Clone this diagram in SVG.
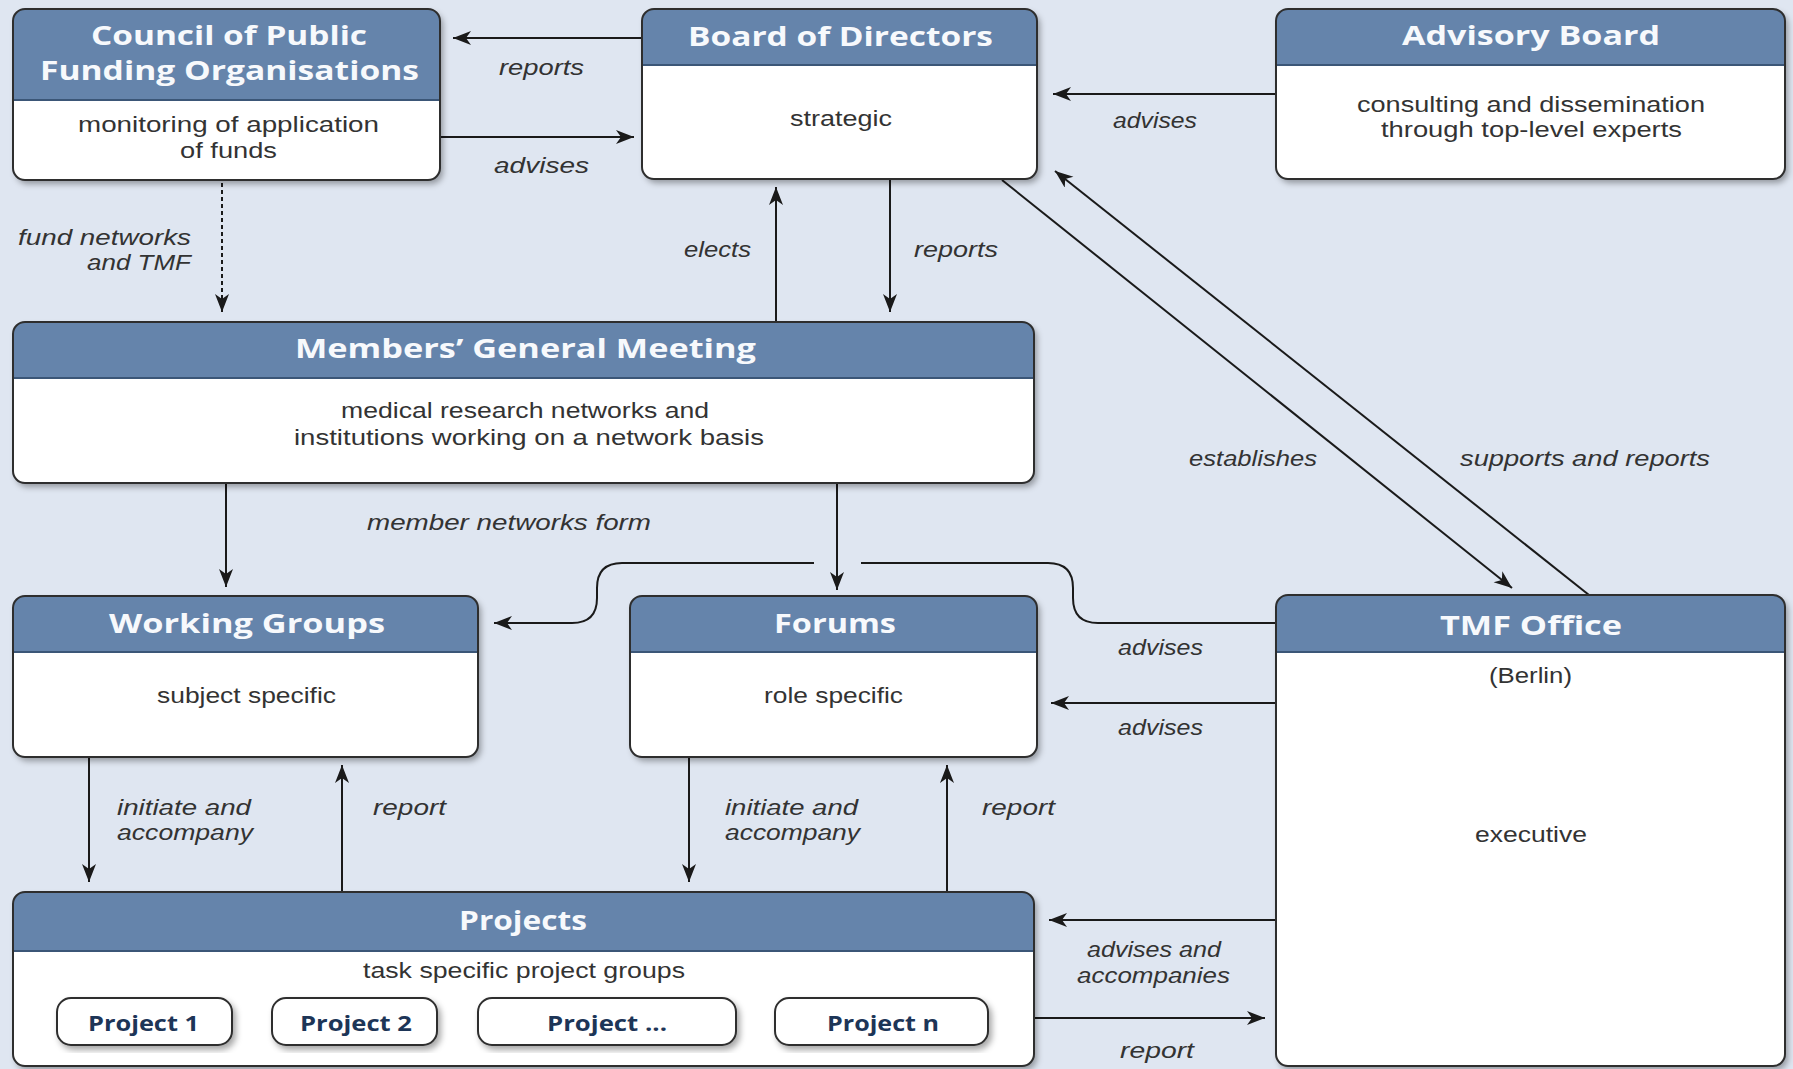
<svg xmlns="http://www.w3.org/2000/svg" width="1793" height="1069" viewBox="0 0 1793 1069">
<defs>
<filter id="sh" x="-5%" y="-5%" width="115%" height="120%">
<feDropShadow dx="3" dy="4" stdDeviation="3" flood-color="#000" flood-opacity="0.35"/>
</filter>
<marker id="ah" markerUnits="userSpaceOnUse" markerWidth="20" markerHeight="16" refX="18" refY="7" orient="auto">
<path d="M0,0 L18,7 L0,14 L5,7 Z" fill="#1a1a1a"/>
</marker>
<style>
.box{fill:#fff;filter:url(#sh)}
.hdr{fill:#6584ab}
.sep{stroke:#3b5677;stroke-width:2}
.frame{fill:none;stroke:#2e2e2e;stroke-width:2}
.pill{fill:#fff;stroke:#2e2e2e;stroke-width:2;filter:url(#sh)}
.t{font-family:"Open Sans","Liberation Sans",sans-serif;font-weight:700;font-size:27px;fill:#f7f9fc}
.b{font-family:"Liberation Sans","Open Sans",sans-serif;font-size:22px;fill:#333}
.l{font-family:"Liberation Sans","Open Sans",sans-serif;font-style:italic;font-size:22px;fill:#333}
.p{font-family:"Open Sans","Liberation Sans",sans-serif;font-weight:700;font-size:21px;fill:#1d3557}
.c{fill:none;stroke:#1a1a1a;stroke-width:2}
.ca{fill:none;stroke:#1a1a1a;stroke-width:2;marker-end:url(#ah)}
</style>
</defs>
<rect x="0" y="0" width="1793" height="1069" fill="#dfe6f1"/>

<g id="connectors">
<line class="ca" x1="642" y1="38" x2="453" y2="38"/>
<line class="ca" x1="440" y1="137" x2="634" y2="137"/>
<line class="ca" x1="222" y1="183" x2="222" y2="312" stroke-dasharray="4 3"/>
<line class="ca" x1="776" y1="322" x2="776" y2="187"/>
<line class="ca" x1="890" y1="179" x2="890" y2="312"/>
<line class="ca" x1="1276" y1="94" x2="1053" y2="94"/>
<line class="ca" x1="1002" y1="180" x2="1512" y2="588"/>
<line class="ca" x1="1589" y1="595" x2="1055" y2="171"/>
<line class="ca" x1="226" y1="483" x2="226" y2="587"/>
<line class="ca" x1="837" y1="483" x2="837" y2="590"/>
<path class="c" d="M1276,623 H1098 Q1073,623 1073,598 V588 Q1073,563 1048,563 H861"/>
<path class="ca" d="M814,563 H622 Q597,563 597,588 V598 Q597,623 572,623 H494"/>
<line class="ca" x1="1276" y1="703" x2="1051" y2="703"/>
<line class="ca" x1="89" y1="757" x2="89" y2="882"/>
<line class="ca" x1="342" y1="892" x2="342" y2="765"/>
<line class="ca" x1="689" y1="757" x2="689" y2="882"/>
<line class="ca" x1="947" y1="892" x2="947" y2="765"/>
<line class="ca" x1="1276" y1="920" x2="1049" y2="920"/>
<line class="ca" x1="1034" y1="1018" x2="1265" y2="1018"/>

<text class="l" x="499" y="75" textLength="85" lengthAdjust="spacingAndGlyphs">reports</text>
<text class="l" x="494" y="173" textLength="95" lengthAdjust="spacingAndGlyphs">advises</text>
<text class="l" x="18" y="245" textLength="173" lengthAdjust="spacingAndGlyphs">fund networks</text>
<text class="l" x="87" y="270" textLength="104" lengthAdjust="spacingAndGlyphs">and TMF</text>
<text class="l" x="684" y="257" textLength="67" lengthAdjust="spacingAndGlyphs">elects</text>
<text class="l" x="914" y="257" textLength="84" lengthAdjust="spacingAndGlyphs">reports</text>
<text class="l" x="1113" y="128" textLength="84" lengthAdjust="spacingAndGlyphs">advises</text>
<text class="l" x="1189" y="466" textLength="128" lengthAdjust="spacingAndGlyphs">establishes</text>
<text class="l" x="1460" y="466" textLength="250" lengthAdjust="spacingAndGlyphs">supports and reports</text>
<text class="l" x="367" y="530" textLength="284" lengthAdjust="spacingAndGlyphs">member networks form</text>
<text class="l" x="1118" y="655" textLength="85" lengthAdjust="spacingAndGlyphs">advises</text>
<text class="l" x="1118" y="735" textLength="85" lengthAdjust="spacingAndGlyphs">advises</text>
<text class="l" x="117" y="815" textLength="134" lengthAdjust="spacingAndGlyphs">initiate and</text>
<text class="l" x="117" y="840" textLength="136" lengthAdjust="spacingAndGlyphs">accompany</text>
<text class="l" x="373" y="815" textLength="73" lengthAdjust="spacingAndGlyphs">report</text>
<text class="l" x="725" y="815" textLength="133" lengthAdjust="spacingAndGlyphs">initiate and</text>
<text class="l" x="725" y="840" textLength="135" lengthAdjust="spacingAndGlyphs">accompany</text>
<text class="l" x="982" y="815" textLength="73" lengthAdjust="spacingAndGlyphs">report</text>
<text class="l" x="1087" y="957" textLength="134" lengthAdjust="spacingAndGlyphs">advises and</text>
<text class="l" x="1077" y="983" textLength="153" lengthAdjust="spacingAndGlyphs">accompanies</text>
<text class="l" x="1120" y="1058" textLength="74" lengthAdjust="spacingAndGlyphs">report</text>
</g>

<g id="council">
<rect class="box" x="13" y="9" width="427" height="171" rx="12"/>
<path class="hdr" d="M13,100 V21 A12,12 0 0 1 25,9 H428 A12,12 0 0 1 440,21 V100 Z"/>
<line class="sep" x1="13" y1="100" x2="440" y2="100"/>
<rect class="frame" x="13" y="9" width="427" height="171" rx="12"/>
<text class="t" x="91" y="45" textLength="276" lengthAdjust="spacingAndGlyphs">Council of Public</text>
<text class="t" x="40" y="80" textLength="379" lengthAdjust="spacingAndGlyphs">Funding Organisations</text>
<text class="b" x="78" y="132" textLength="301" lengthAdjust="spacingAndGlyphs">monitoring of application</text>
<text class="b" x="180" y="158" textLength="97" lengthAdjust="spacingAndGlyphs">of funds</text>
</g>

<g id="board">
<rect class="box" x="642" y="9" width="395" height="170" rx="12"/>
<path class="hdr" d="M642,65 V21 A12,12 0 0 1 654,9 H1025 A12,12 0 0 1 1037,21 V65 Z"/>
<line class="sep" x1="642" y1="65" x2="1037" y2="65"/>
<rect class="frame" x="642" y="9" width="395" height="170" rx="12"/>
<text class="t" x="688" y="46" textLength="305" lengthAdjust="spacingAndGlyphs">Board of Directors</text>
<text class="b" x="790" y="126" textLength="102" lengthAdjust="spacingAndGlyphs">strategic</text>
</g>

<g id="advisory">
<rect class="box" x="1276" y="9" width="509" height="170" rx="12"/>
<path class="hdr" d="M1276,65 V21 A12,12 0 0 1 1288,9 H1773 A12,12 0 0 1 1785,21 V65 Z"/>
<line class="sep" x1="1276" y1="65" x2="1785" y2="65"/>
<rect class="frame" x="1276" y="9" width="509" height="170" rx="12"/>
<text class="t" x="1402" y="45" textLength="258" lengthAdjust="spacingAndGlyphs">Advisory Board</text>
<text class="b" x="1357" y="112" textLength="348" lengthAdjust="spacingAndGlyphs">consulting and dissemination</text>
<text class="b" x="1381" y="137" textLength="301" lengthAdjust="spacingAndGlyphs">through top-level experts</text>
</g>

<g id="mgm">
<rect class="box" x="13" y="322" width="1021" height="161" rx="12"/>
<path class="hdr" d="M13,378 V334 A12,12 0 0 1 25,322 H1022 A12,12 0 0 1 1034,334 V378 Z"/>
<line class="sep" x1="13" y1="378" x2="1034" y2="378"/>
<rect class="frame" x="13" y="322" width="1021" height="161" rx="12"/>
<text class="t" x="295" y="358" textLength="461" lengthAdjust="spacingAndGlyphs">Members’ General Meeting</text>
<text class="b" x="341" y="418" textLength="368" lengthAdjust="spacingAndGlyphs">medical research networks and</text>
<text class="b" x="294" y="445" textLength="470" lengthAdjust="spacingAndGlyphs">institutions working on a network basis</text>
</g>

<g id="working-groups">
<rect class="box" x="13" y="596" width="465" height="161" rx="12"/>
<path class="hdr" d="M13,652 V608 A12,12 0 0 1 25,596 H466 A12,12 0 0 1 478,608 V652 Z"/>
<line class="sep" x1="13" y1="652" x2="478" y2="652"/>
<rect class="frame" x="13" y="596" width="465" height="161" rx="12"/>
<text class="t" x="109" y="633" textLength="276" lengthAdjust="spacingAndGlyphs">Working Groups</text>
<text class="b" x="157" y="703" textLength="179" lengthAdjust="spacingAndGlyphs">subject specific</text>
</g>

<g id="forums">
<rect class="box" x="630" y="596" width="407" height="161" rx="12"/>
<path class="hdr" d="M630,652 V608 A12,12 0 0 1 642,596 H1025 A12,12 0 0 1 1037,608 V652 Z"/>
<line class="sep" x1="630" y1="652" x2="1037" y2="652"/>
<rect class="frame" x="630" y="596" width="407" height="161" rx="12"/>
<text class="t" x="774" y="633" textLength="122" lengthAdjust="spacingAndGlyphs">Forums</text>
<text class="b" x="764" y="703" textLength="139" lengthAdjust="spacingAndGlyphs">role specific</text>
</g>

<g id="tmf-office">
<rect class="box" x="1276" y="595" width="509" height="471" rx="12"/>
<path class="hdr" d="M1276,652 V607 A12,12 0 0 1 1288,595 H1773 A12,12 0 0 1 1785,607 V652 Z"/>
<line class="sep" x1="1276" y1="652" x2="1785" y2="652"/>
<rect class="frame" x="1276" y="595" width="509" height="471" rx="12"/>
<text class="t" x="1440" y="635" textLength="182" lengthAdjust="spacingAndGlyphs">TMF Office</text>
<text class="b" x="1489" y="683" textLength="83" lengthAdjust="spacingAndGlyphs">(Berlin)</text>
<text class="b" x="1475" y="842" textLength="112" lengthAdjust="spacingAndGlyphs">executive</text>
</g>

<g id="projects">
<rect class="box" x="13" y="892" width="1021" height="174" rx="12"/>
<path class="hdr" d="M13,951 V904 A12,12 0 0 1 25,892 H1022 A12,12 0 0 1 1034,904 V951 Z"/>
<line class="sep" x1="13" y1="951" x2="1034" y2="951"/>
<rect class="frame" x="13" y="892" width="1021" height="174" rx="12"/>
<text class="t" x="459" y="930" textLength="128" lengthAdjust="spacingAndGlyphs">Projects</text>
<text class="b" x="363" y="978" textLength="322" lengthAdjust="spacingAndGlyphs">task specific project groups</text>
</g>

<g id="project-1">
<rect class="pill" x="57" y="998" width="175" height="47" rx="14"/>
<text class="p" x="88" y="1031" textLength="111" lengthAdjust="spacingAndGlyphs">Project 1</text>
</g>
<g id="project-2">
<rect class="pill" x="272" y="998" width="165" height="47" rx="14"/>
<text class="p" x="300" y="1031" textLength="112" lengthAdjust="spacingAndGlyphs">Project 2</text>
</g>
<g id="project-etc">
<rect class="pill" x="478" y="998" width="258" height="47" rx="14"/>
<text class="p" x="547" y="1031" textLength="120" lengthAdjust="spacingAndGlyphs">Project ...</text>
</g>
<g id="project-n">
<rect class="pill" x="775" y="998" width="213" height="47" rx="14"/>
<text class="p" x="827" y="1031" textLength="112" lengthAdjust="spacingAndGlyphs">Project n</text>
</g>
</svg>
